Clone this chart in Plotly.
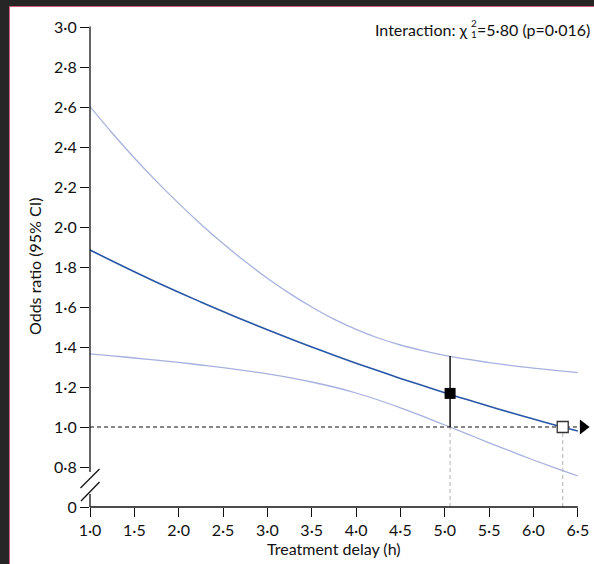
import plotly.graph_objects as go

# ---- data ----
delay = [1.00, 1.25, 1.50, 1.75, 2.00, 2.25, 2.50, 2.75, 3.00, 3.25, 3.50, 3.75,
         4.00, 4.25, 4.50, 4.75, 5.00, 5.25, 5.50, 5.75, 6.00, 6.25, 6.50]
odds_ratio = [1.885, 1.830, 1.776, 1.724, 1.674, 1.625, 1.577, 1.531, 1.486, 1.442, 1.400, 1.359,
              1.319, 1.281, 1.243, 1.207, 1.171, 1.137, 1.104, 1.071, 1.040, 1.009, 0.980]
ci_upper = [2.602, 2.470, 2.345, 2.228, 2.118, 2.014, 1.917, 1.827, 1.744, 1.668, 1.600, 1.539,
            1.488, 1.445, 1.410, 1.382, 1.358, 1.339, 1.322, 1.307, 1.294, 1.283, 1.272]
ci_lower = [1.366, 1.356, 1.345, 1.334, 1.323, 1.310, 1.297, 1.282, 1.266, 1.247, 1.225, 1.200,
            1.170, 1.135, 1.096, 1.054, 1.010, 0.966, 0.921, 0.878, 0.835, 0.794, 0.755]

sig_point_x = [5.06]        # delay at which lower CI crosses 1 (filled square)
sig_point_or = [1.168]
sig_point_hi = 1.355
null_point_x = [6.33]       # delay at which OR crosses 1 (open square)
null_point_or = [1.0]

x_ticks = [1.0, 1.5, 2.0, 2.5, 3.0, 3.5, 4.0, 4.5, 5.0, 5.5, 6.0, 6.5]
x_ticktext = ["1·0", "1·5", "2·0", "2·5", "3·0", "3·5", "4·0", "4·5", "5·0", "5·5", "6·0", "6·5"]
y_ticks = [0.6, 0.8, 1.0, 1.2, 1.4, 1.6, 1.8, 2.0, 2.2, 2.4, 2.6, 2.8, 3.0]
y_ticktext = ["0", "0·8", "1·0", "1·2", "1·4", "1·6", "1·8", "2·0", "2·2", "2·4", "2·6", "2·8", "3·0"]

# ---- layout geometry ----
W, H = 594, 564
ML, MR, MT, MB = 90, 2, 27, 57
XR = [1.0, 6.66]
YR = [0.6, 3.0]
PW = W - ML - MR
PH = H - MT - MB
FONT = "Lato"
FS = 16


def px_x(p):
    return (p - ML) / PW


def px_y(p):
    return (H - MB - p) / PH


def dx(v):
    return (v - XR[0]) / (XR[1] - XR[0])


def dy(v):
    return (v - YR[0]) / (YR[1] - YR[0])


fig = go.Figure()

# CI curves
fig.add_trace(go.Scatter(x=delay, y=ci_upper, mode="lines", line=dict(color="#a7b1df", width=1.3, shape="spline"),
                         hoverinfo="skip", showlegend=False))
fig.add_trace(go.Scatter(x=delay, y=ci_lower, mode="lines", line=dict(color="#a7b1df", width=1.3, shape="spline"),
                         hoverinfo="skip", showlegend=False))
# vertical grey dashed guides
for xv in sig_point_x + null_point_x:
    fig.add_trace(go.Scatter(x=[xv, xv], y=[YR[0], 1.0], mode="lines",
                             line=dict(color="#b8b8b8", width=1.1, dash="4px,3px"),
                             hoverinfo="skip", showlegend=False))
# reference line OR = 1
fig.add_trace(go.Scatter(x=[1.0, 6.49], y=[1.0, 1.0], mode="lines",
                         line=dict(color="#111111", width=1.2, dash="4px,3px"),
                         hoverinfo="skip", showlegend=False))
# central curve
fig.add_trace(go.Scatter(x=delay, y=odds_ratio, mode="lines", line=dict(color="#2856a6", width=1.6, shape="spline"),
                         hoverinfo="skip", showlegend=False))
# error bar at significance boundary
fig.add_trace(go.Scatter(x=[sig_point_x[0], sig_point_x[0]], y=[1.0, sig_point_hi], mode="lines",
                         line=dict(color="#111111", width=1.5), hoverinfo="skip", showlegend=False))
fig.add_trace(go.Scatter(x=sig_point_x, y=sig_point_or, mode="markers",
                         marker=dict(symbol="square", size=11, color="#000000", line=dict(width=0)),
                         hoverinfo="skip", showlegend=False))
fig.add_trace(go.Scatter(x=null_point_x, y=null_point_or, mode="markers",
                         marker=dict(symbol="square", size=11, color="#ffffff", line=dict(width=1.3, color="#333333")),
                         hoverinfo="skip", showlegend=False))
# arrow head
fig.add_trace(go.Scatter(x=[6.56], y=[1.0], mode="markers", cliponaxis=False,
                         marker=dict(symbol="triangle-right", size=13, color="#000000", line=dict(width=0)),
                         hoverinfo="skip", showlegend=False))

shapes = []
# white page with pink edge on dark frame
shapes.append(dict(type="rect", xref="paper", yref="paper", layer="below",
                   x0=px_x(9.5), x1=px_x(620), y0=px_y(590), y1=px_y(6.5),
                   fillcolor="#ffffff", line=dict(color="#cf5d78", width=1)))
# dark frame strips (explicit)
shapes.append(dict(type="rect", xref="paper", yref="paper", layer="above",
                   x0=px_x(-2), x1=px_x(9), y0=px_y(570), y1=px_y(-2),
                   fillcolor="#262626", line=dict(width=0)))
shapes.append(dict(type="rect", xref="paper", yref="paper", layer="above",
                   x0=px_x(-2), x1=px_x(600), y0=px_y(6), y1=px_y(-2),
                   fillcolor="#262626", line=dict(width=0)))
# axis lines (y axis broken between slashes)
gap_top, gap_bot = 472, 494
shapes.append(dict(type="line", xref="paper", yref="paper", x0=0, x1=0, y0=dy(3.0) + 0.001, y1=px_y(gap_top),
                   line=dict(color="#111111", width=1.3)))
shapes.append(dict(type="line", xref="paper", yref="paper", x0=0, x1=0, y0=px_y(gap_bot), y1=0,
                   line=dict(color="#111111", width=1.3)))
shapes.append(dict(type="line", xref="paper", yref="paper", x0=0, x1=dx(6.5), y0=0, y1=0,
                   line=dict(color="#111111", width=1.3)))
# break slashes
shapes.append(dict(type="line", xref="paper", yref="paper", x0=px_x(80.5), y0=px_y(488), x1=px_x(99.5), y1=px_y(469),
                   line=dict(color="#111111", width=1.3)))
shapes.append(dict(type="line", xref="paper", yref="paper", x0=px_x(81), y0=px_y(501), x1=px_x(99.5), y1=px_y(482),
                   line=dict(color="#111111", width=1.3)))

CHI = 470
annotations = [
    dict(text="Odds ratio (95% CI)", xref="paper", yref="paper", x=px_x(34), y=0.5, textangle=-90,
         showarrow=False, xanchor="center", yanchor="middle", font=dict(family=FONT, size=FS, color="#111111")),
    dict(text="Treatment delay (h)", xref="paper", yref="paper", x=dx(3.75), y=px_y(548),
         showarrow=False, xanchor="center", yanchor="middle", font=dict(family=FONT, size=FS, color="#111111")),
    dict(text="Interaction: χ", xref="paper", yref="paper", x=px_x(CHI), y=px_y(29.5),
         showarrow=False, xanchor="right", yanchor="middle", font=dict(family=FONT, size=FS, color="#111111")),
    dict(text="2", xref="paper", yref="paper", x=px_x(CHI - 1), y=px_y(23.5),
         showarrow=False, xanchor="left", yanchor="middle", font=dict(family=FONT, size=10, color="#111111")),
    dict(text="1", xref="paper", yref="paper", x=px_x(CHI - 1), y=px_y(33.5),
         showarrow=False, xanchor="left", yanchor="middle", font=dict(family=FONT, size=10, color="#111111")),
    dict(text="=5·80 (p=0·016)", xref="paper", yref="paper", x=px_x(CHI + 5), y=px_y(29.5),
         showarrow=False, xanchor="left", yanchor="middle", font=dict(family=FONT, size=FS, color="#111111")),
]

fig.update_layout(
    width=W, height=H,
    margin=dict(l=ML, r=MR, t=MT, b=MB, pad=0),
    paper_bgcolor="#262626", plot_bgcolor="rgba(0,0,0,0)",
    showlegend=False,
    shapes=shapes, annotations=annotations,
    font=dict(family=FONT, size=FS, color="#111111"),
    xaxis=dict(range=XR, tickvals=x_ticks, ticktext=x_ticktext, ticks="outside", ticklen=9, tickwidth=1.3,
               tickcolor="#111111", showgrid=False, zeroline=False, showline=False,
               tickfont=dict(family=FONT, size=FS, color="#111111")),
    yaxis=dict(range=YR, tickvals=y_ticks, ticktext=y_ticktext, ticks="outside", ticklen=9, tickwidth=1.3,
               tickcolor="#111111", showgrid=False, zeroline=False, showline=False,
               tickfont=dict(family=FONT, size=FS, color="#111111")),
)

fig.write_html("out.html", config={"displayModeBar": False},
               post_script="document.body.style.margin='0';document.body.style.padding='0';")
